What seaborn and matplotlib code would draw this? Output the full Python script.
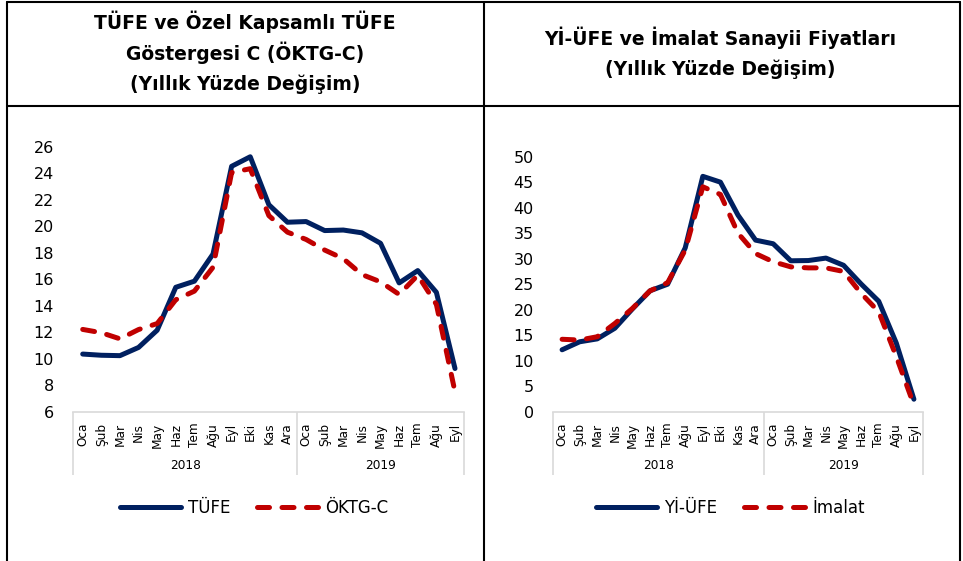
import numpy as np
import pandas as pd
import matplotlib
matplotlib.use("Agg")
import matplotlib.pyplot as plt
from matplotlib.lines import Line2D
import seaborn as sns

sns.set_style("white")
plt.rcParams['font.family'] = ['DejaVu Sans']
plt.rcParams['lines.dash_capstyle'] = 'round'
plt.rcParams['lines.solid_capstyle'] = 'round'
plt.rcParams['text.color'] = 'black'
plt.rcParams['xtick.color'] = 'black'
plt.rcParams['ytick.color'] = 'black'

# aylar (2018 Oca - 2019 Eyl)
months = ["Oca", "Şub", "Mar", "Nis", "May", "Haz", "Tem", "Ağu", "Eyl", "Eki", "Kas", "Ara",
          "Oca", "Şub", "Mar", "Nis", "May", "Haz", "Tem", "Ağu", "Eyl"]
years = ["2018", "2019"]

tufe = [10.35, 10.26, 10.23, 10.85, 12.15, 15.39, 15.85, 17.90, 24.52, 25.24, 21.62, 20.30,
        20.35, 19.67, 19.71, 19.50, 18.71, 15.72, 16.65, 15.01, 9.26]
oktg_c = [12.21, 11.96, 11.50, 12.20, 12.65, 14.45, 15.10, 16.90, 24.05, 24.34, 20.80, 19.55,
          19.00, 18.20, 17.55, 16.35, 15.80, 14.85, 16.30, 14.10, 7.50]

yi_ufe = [12.14, 13.71, 14.28, 16.37, 20.16, 23.71, 25.00, 32.13, 46.15, 45.01, 38.54, 33.64,
          32.93, 29.59, 29.64, 30.12, 28.71, 25.04, 21.66, 13.45, 2.45]
imalat = [14.20, 14.05, 14.70, 17.30, 20.26, 23.70, 25.30, 31.70, 44.10, 42.60, 35.00, 31.00,
          29.40, 28.40, 28.20, 28.20, 27.50, 23.20, 19.60, 10.80, 1.30]

navy = "#002060"
red = "#C00000"
W, H = 963, 561

fig = plt.figure(figsize=(W / 100, H / 100), dpi=100)


def px_ax(left, top, right, bottom):
    return fig.add_axes([left / W, 1 - bottom / H, (right - left) / W, (bottom - top) / H])


def draw_panel(ax, s1, s2, name1, name2, ylim, step, legend_x):
    df = pd.DataFrame({
        "x": list(range(len(months))) * 2,
        "val": s1 + s2,
        "seri": [name1] * len(s1) + [name2] * len(s2),
    })
    sns.lineplot(data=df, x="x", y="val", hue="seri", style="seri",
                 palette={name1: navy, name2: red},
                 dashes={name1: "", name2: (2.4, 2.5)},
                 linewidth=3.6, ax=ax, legend=False)
    ax.set_xlim(-0.5, len(months) - 0.5)
    ax.set_ylim(*ylim)
    ax.set_yticks(np.arange(ylim[0], ylim[1] + 0.1, step))
    ax.tick_params(axis="y", length=0, pad=14, labelsize=11.5)
    ax.set_xticks(range(len(months)))
    ax.set_xticklabels(months, rotation=90, fontsize=8.7)
    ax.tick_params(axis="x", length=0, pad=8)
    ax.set_xlabel("")
    ax.set_ylabel("")
    for side in ["top", "right", "left"]:
        ax.spines[side].set_visible(False)
    ax.spines["bottom"].set_color("#D9D9D9")
    ax.spines["bottom"].set_linewidth(1.2)

    # iki seviyeli kategori ekseni
    hpx = ax.get_position().height * H
    tr = ax.get_xaxis_transform()
    for xb in [-0.5, 11.5, len(months) - 0.5]:
        ax.plot([xb, xb], [0, -63 / hpx], color="#D9D9D9", lw=1.2, transform=tr,
                clip_on=False, solid_capstyle="butt")
    ax.text(5.5, -54 / hpx, years[0], transform=tr, ha="center", va="center", fontsize=8.7)
    ax.text(16, -54 / hpx, years[1], transform=tr, ha="center", va="center", fontsize=8.7)

    handles = [Line2D([0], [0], color=navy, lw=3.6),
               Line2D([0], [0], color=red, lw=3.6, dashes=(2.4, 2.5))]
    fig.legend(handles, [name1, name2], loc="center", ncol=2, frameon=False,
               bbox_to_anchor=(legend_x / W, 1 - 508 / H), fontsize=12,
               handlelength=3.7, handletextpad=0.4, columnspacing=1.6)


ax1 = px_ax(73.4, 146.7, 464.3, 411.7)
draw_panel(ax1, tufe, oktg_c, "TÜFE", "ÖKTG-C", (6, 26), 2, 254)

ax2 = px_ax(553.3, 156.7, 922.7, 411.7)
draw_panel(ax2, yi_ufe, imalat, "Yİ-ÜFE", "İmalat", (0, 50), 5, 730)

# tablo çerçevesi
def fline(x0, y0, x1, y1):
    fig.add_artist(Line2D([x0 / W, x1 / W], [1 - y0 / H, 1 - y1 / H], color="black", lw=1.5))

fline(7, 2, 960, 2)
fline(7, 106, 960, 106)
fline(7, 2, 7, 561)
fline(483.5, 2, 483.5, 561)
fline(960, 2, 960, 561)

# başlıklar
t1 = ["TÜFE ve Özel Kapsamlı TÜFE", "Göstergesi C (ÖKTG-C)", "(Yıllık Yüzde Değişim)"]
for i, t in enumerate(t1):
    fig.text(245 / W, 1 - (22 + 31 * i) / H, t, ha="center", va="center",
             fontsize=13.5, fontweight="bold")
t2 = ["Yİ-ÜFE ve İmalat Sanayii Fiyatları", "(Yıllık Yüzde Değişim)"]
for i, t in enumerate(t2):
    fig.text(720 / W, 1 - (38 + 31 * i) / H, t, ha="center", va="center",
             fontsize=13.5, fontweight="bold")

fig.savefig("out.png", dpi=100)
